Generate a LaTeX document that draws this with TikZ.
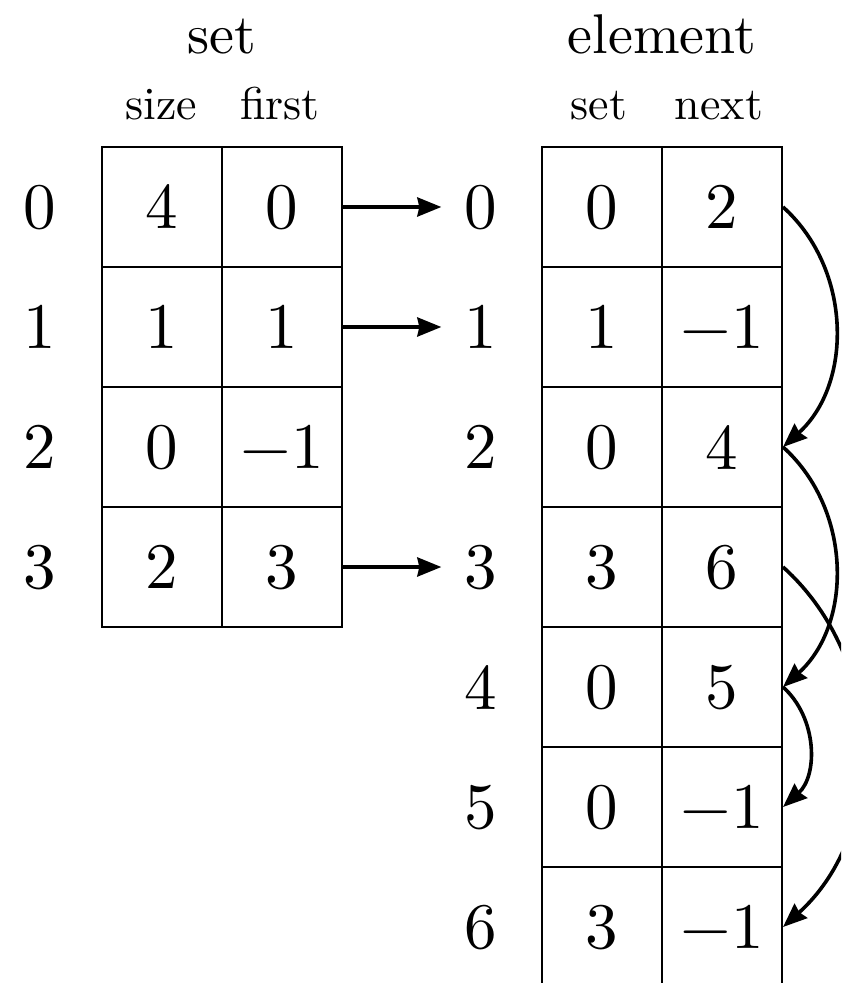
\documentclass[tikz,border=0pt]{standalone}
\usepackage{fontspec}
\setmainfont{lmroman10-regular.otf}
\usetikzlibrary{arrows.meta}
\begin{document}
\begin{tikzpicture}[x=0.5pt,y=-0.5pt,
  cell/.style={draw, line width=1pt, minimum width=60pt, minimum height=60pt, inner sep=0pt,
    font=\fontsize{32.5}{38}\selectfont, text depth=0pt},
  lab/.style={inner xsep=11.5pt, inner ysep=0pt, font=\fontsize{32.5}{38}\selectfont, text depth=0pt},
  head/.style={anchor=base, inner sep=0pt, font=\fontsize{28}{34}\selectfont},
  sub/.style={anchor=base, inner sep=0pt, font=\fontsize{23}{28}\selectfont},
  ptr/.style={line width=1.8pt, -{Stealth[length=12pt,width=9.5pt,inset=1pt]}}]
\useasboundingbox (0,0) rectangle (841,983);
\clip (0,0) rectangle (841,983);
% headers
\node[head] (hs) at (222,54) {set};
\node[head] (he) at (662,54) {element};
\node[sub] (hsize) at (161,120) {size};
\node[sub] (hfirst) at (280,120) {first};
\node[sub] (hset) at (599,120) {set};
\node[sub] (hnext) at (719,120) {next};
% set table
\foreach \r/\a/\b in {0/4/0, 1/1/1, 2/0/−1, 3/2/3}{
  \node[lab] (sl\r) at (40,207+120*\r) {\r};
  \node[cell] (s\r a) at (162,207+120*\r) {\a};
  \node[cell] (s\r b) at (282,207+120*\r) {\b};
}
% element table
\foreach \r/\a/\b in {0/0/2, 1/1/−1, 2/0/4, 3/3/6, 4/0/5, 5/0/−1, 6/3/−1}{
  \node[lab] (el\r) at (481,207+120*\r) {\r};
  \node[cell] (e\r a) at (602,207+120*\r) {\a};
  \node[cell] (e\r b) at (722,207+120*\r) {\b};
}
% first pointers
\draw[ptr] (s0b.east) -- (el0.west);
\draw[ptr] (s1b.east) -- (el1.west);
\draw[ptr] (s3b.east) -- (el3.west);
% next pointers
\draw[ptr] (e0b.east) to[bend left=48] (e2b.east);
\draw[ptr] (e2b.east) to[bend left=48] (e4b.east);
\draw[ptr] (e3b.east) to[bend left=48] (e6b.east);
\draw[ptr] (e4b.east) to[bend left=48] (e5b.east);
\end{tikzpicture}
\end{document}
